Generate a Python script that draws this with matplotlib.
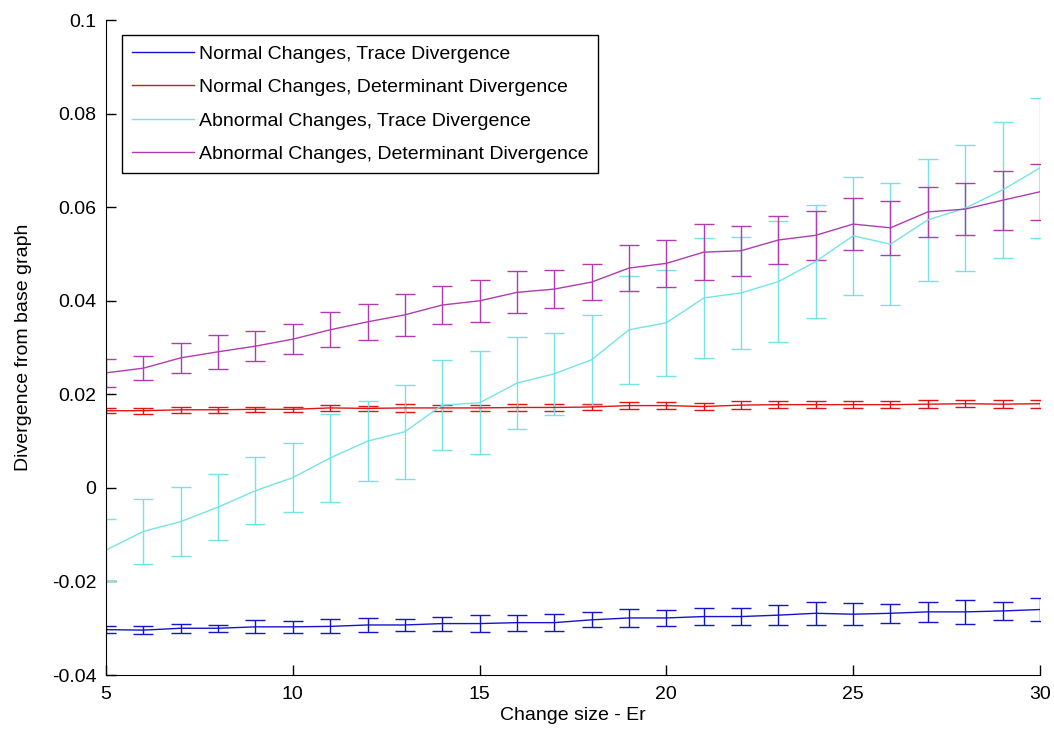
import numpy as np
import matplotlib
matplotlib.use("Agg")
import matplotlib.pyplot as plt
from matplotlib.lines import Line2D

change_size = np.arange(5, 31)

# normal changes, trace divergence
normal_trace = [-0.0303, -0.0304, -0.0300, -0.0300, -0.0297, -0.0297, -0.0296, -0.0293, -0.0293,
                -0.0290, -0.0290, -0.0288, -0.0288, -0.0282, -0.0278, -0.0278, -0.0275, -0.0275,
                -0.0272, -0.0268, -0.0270, -0.0268, -0.0265, -0.0265, -0.0263, -0.0260]
normal_trace_err = [0.0007, 0.0008, 0.0010, 0.0008, 0.0014, 0.0013, 0.0015, 0.0015, 0.0013,
                    0.0015, 0.0018, 0.0017, 0.0018, 0.0016, 0.0020, 0.0018, 0.0018, 0.0018,
                    0.0022, 0.0025, 0.0023, 0.0020, 0.0022, 0.0025, 0.0020, 0.0025]

# normal changes, determinant divergence
normal_det = [0.0165, 0.0165, 0.0167, 0.0167, 0.0168, 0.0168, 0.0171, 0.0170, 0.0171,
              0.0171, 0.0171, 0.0172, 0.0172, 0.0173, 0.0176, 0.0176, 0.0174, 0.0177,
              0.0178, 0.0178, 0.0178, 0.0178, 0.0179, 0.0180, 0.0179, 0.0180]
normal_det_err = [0.0005, 0.0006, 0.0006, 0.0006, 0.0006, 0.0006, 0.0006, 0.0006, 0.0008,
                  0.0006, 0.0007, 0.0007, 0.0007, 0.0007, 0.0008, 0.0007, 0.0008, 0.0008,
                  0.0008, 0.0008, 0.0008, 0.0008, 0.0009, 0.0008, 0.0008, 0.0009]

# abnormal changes, trace divergence
abnormal_trace = [-0.0133, -0.0093, -0.0072, -0.0041, -0.0006, 0.0022, 0.0064, 0.0100, 0.0120,
                  0.0177, 0.0182, 0.0224, 0.0244, 0.0274, 0.0338, 0.0353, 0.0406, 0.0417,
                  0.0441, 0.0484, 0.0539, 0.0521, 0.0573, 0.0598, 0.0637, 0.0684]
abnormal_trace_err = [0.0067, 0.0069, 0.0073, 0.0070, 0.0072, 0.0073, 0.0094, 0.0086, 0.0100,
                      0.0097, 0.0110, 0.0098, 0.0088, 0.0096, 0.0115, 0.0113, 0.0128, 0.0120,
                      0.0130, 0.0120, 0.0126, 0.0130, 0.0130, 0.0135, 0.0146, 0.0150]

# abnormal changes, determinant divergence
abnormal_det = [0.0246, 0.0256, 0.0278, 0.0291, 0.0303, 0.0318, 0.0338, 0.0355, 0.0370,
                0.0391, 0.0400, 0.0418, 0.0425, 0.0440, 0.0470, 0.0480, 0.0504, 0.0507,
                0.0530, 0.0540, 0.0564, 0.0556, 0.0590, 0.0596, 0.0615, 0.0633]
abnormal_det_err = [0.0030, 0.0025, 0.0032, 0.0036, 0.0032, 0.0032, 0.0037, 0.0039, 0.0045,
                    0.0041, 0.0045, 0.0045, 0.0041, 0.0038, 0.0050, 0.0050, 0.0060, 0.0053,
                    0.0052, 0.0053, 0.0056, 0.0058, 0.0053, 0.0056, 0.0063, 0.0060]

labels = ["Normal Changes, Trace Divergence",
          "Normal Changes, Determinant Divergence",
          "Abnormal Changes, Trace Divergence",
          "Abnormal Changes, Determinant Divergence"]
colors = ["#1414c8", "#e01414", "#74e4e4", "#b03cb0"]

plt.rcParams["font.family"] = ["Liberation Sans", "DejaVu Sans"]
fs = 14

fig = plt.figure(figsize=(10.54, 7.40), dpi=100)
ax = fig.add_axes([0.1006, 0.0878, 0.886, 0.885])

series = [(normal_trace, normal_trace_err), (normal_det, normal_det_err),
          (abnormal_trace, abnormal_trace_err), (abnormal_det, abnormal_det_err)]
for (vals, errs), col in zip(series, colors):
    ax.errorbar(change_size, vals, yerr=errs, color=col, lw=1.0, elinewidth=1.0,
                capsize=7, capthick=1.0)

ax.set_xlim(5, 30)
ax.set_ylim(-0.04, 0.1)
ax.set_xticks([5, 10, 15, 20, 25, 30])
ax.set_yticks([-0.04, -0.02, 0, 0.02, 0.04, 0.06, 0.08, 0.1])
ax.set_yticklabels(["-0.04", "-0.02", "0", "0.02", "0.04", "0.06", "0.08", "0.1"])
ax.spines["top"].set_visible(False)
ax.spines["right"].set_visible(False)
ax.tick_params(direction="in", length=7, width=1, labelsize=fs)
ax.tick_params(axis="x", pad=8)
ax.tick_params(axis="y", pad=7)
ax.set_xlabel("Change size - Er", fontsize=fs, labelpad=3)
ax.set_ylabel("Divergence from base graph", fontsize=fs, labelpad=14)

handles = [Line2D([], [], color=c, lw=1.0) for c in colors]
leg = ax.legend(handles, labels, loc="upper left", bbox_to_anchor=(0.017, 0.977),
                borderaxespad=0, fontsize=14, fancybox=False, framealpha=1,
                edgecolor="black", handlelength=3.2, handletextpad=0.25,
                labelspacing=0.82, borderpad=0.5)
leg.get_frame().set_linewidth(1.0)

fig.savefig("out.png", dpi=100)
